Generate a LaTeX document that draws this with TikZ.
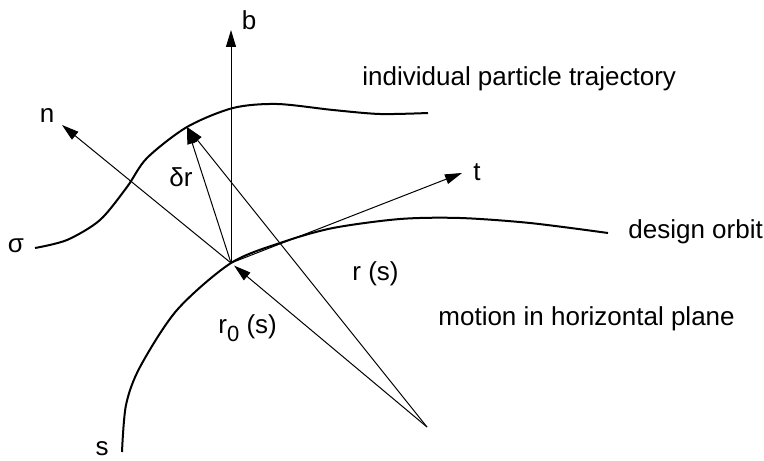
\documentclass[tikz,border=0pt]{standalone}
\usepackage{fontspec}
\setmainfont{Liberation Sans}
\usetikzlibrary{arrows.meta}

\begin{document}
\begin{tikzpicture}[
    x=0.5pt, y=-0.5pt,
    every node/.style={font=\fontsize{13}{15}\selectfont},
]

% ---------------------------------------------------------------- colours
\definecolor{inkcolor}{HTML}{000000}   % every line and every label

% ---------------------------------------------------------------- styles
\tikzset{
    vec/.style={
        -{Triangle[length=8.5pt, width=5pt]}, line width=0.5pt, inkcolor,
    },
    orbit/.style={
        line width=1pt, inkcolor,
    },
    lbl/.style={
        text=inkcolor, inner sep=1pt,
    },
}

\useasboundingbox (0,0) rectangle (764,460);

% ================================================================
% GEOMETRY (pixel units, y downwards)
%   point on the design orbit   P = (231, 263)
%   centre of curvature         O = (427, 427)
% ================================================================

\coordinate (P) at (231, 263);
\coordinate (O) at (427, 427);
\coordinate (btip) at (231, 30);
\coordinate (ntip) at (62, 125);
\coordinate (ttip) at (462, 173);
\coordinate (dtip) at (187, 127);

% ---------------------------------------------------------------- curves
\draw[orbit] plot[smooth] coordinates {
    (122,452) (126,405) (140,367) (177,310) (231,263) (283,242)
    (333,228) (400,219) (460,218) (530,223) (608,233)};

\draw[orbit] plot[smooth] coordinates {
    (35,248) (67,240) (100,220) (127,187) (147,158) (187,127)
    (233,108) (277,104) (333,110) (380,114) (428,113)};

% ---------------------------------------------------------------- frame b, n, t
\draw[vec] (P) -- (btip);
\draw[vec] (P) -- (ntip);
\draw[vec] (P) -- (ttip);

% ---------------------------------------------------------------- position vectors
\draw[vec] (P) -- (dtip);
\draw[vec] (O) -- (dtip);
\draw[vec, shorten >=2pt] (O) -- (P);

% ---------------------------------------------------------------- labels
\node[lbl] (lb) at (249, 20) {b};
\node[lbl] (ln) at (47, 116) {n};
\node[lbl] (lt) at (477, 172) {t};
\node[lbl] (ldr) at (181, 177) {δr};
\node[lbl] (lsig) at (16, 246) {σ};
\node[lbl] (ls) at (102, 449) {s};
\node[lbl, anchor=west] (lrs) at (350, 274) {r (s)};
\node[lbl, anchor=west] (lr0) at (216, 328)
    {r\raisebox{-0.55ex}{\fontsize{11}{13}\selectfont 0} (s)};
\node[lbl, anchor=west] (ltraj) at (360, 79) {individual particle trajectory};
\node[lbl, anchor=west] (lorb) at (626, 232) {design orbit};
\node[lbl, anchor=west] (lplane) at (436, 319) {motion in horizontal plane};

\end{tikzpicture}
\end{document}
